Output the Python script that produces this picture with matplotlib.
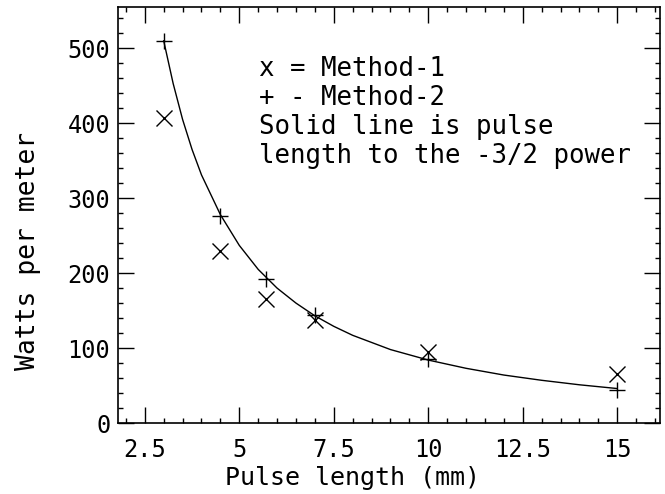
import matplotlib
matplotlib.use("Agg")
import matplotlib.pyplot as plt
from matplotlib.ticker import MultipleLocator

# data
pulse_len = [3.0, 4.5, 5.7, 7.0, 10.0, 15.0]
method1 = [407, 230, 166, 137, 95, 65]
method2 = [510, 276, 192, 144, 86, 44]

# solid line (pulse length ^ -3/2)
curve_x = [3.0, 3.25, 3.5, 3.75, 4.0, 4.5, 5.0, 5.5, 6.0, 6.5, 7.0, 7.5, 8.0,
           9.0, 10.0, 11.0, 12.0, 13.0, 14.0, 15.0]
curve_y = [510, 453, 405, 365, 331, 278, 237, 205, 180, 160, 143, 129, 117,
           98, 84, 73, 64, 57, 51, 46]

tick_pos = [2.5, 5, 7.5, 10, 12.5, 15]
tick_txt = ['2.5', '5', '7.5', '10', '12.5', '15']

note = ["x = Method-1", "+ - Method-2", "Solid line is pulse",
        "length to the -3/2 power"]

plt.rcParams['font.family'] = ['DejaVu Sans Mono', 'DejaVu Sans']

fig = plt.figure(figsize=(6.65, 4.94), dpi=100)
ax = fig.add_axes([0.1774, 0.1437, 0.815, 0.842])

ax.plot(curve_x, curve_y, color='k', lw=1.0)
ax.plot(pulse_len, method1, linestyle='none', marker='x', ms=11, mew=1.0, color='k')
ax.plot(pulse_len, method2, linestyle='none', marker='+', ms=11, mew=1.0, color='k')

ax.set_xlim(1.79, 16.13)
ax.set_ylim(0, 555)
ax.set_xticks(tick_pos)
ax.set_xticklabels(tick_txt)
ax.xaxis.set_minor_locator(MultipleLocator(0.5))
ax.yaxis.set_major_locator(MultipleLocator(100))
ax.yaxis.set_minor_locator(MultipleLocator(20))

ax.tick_params(which='both', direction='in', top=True, right=True, width=1.0,
               labelsize=17)
ax.tick_params(which='major', length=11.5)
ax.tick_params(which='minor', length=3.6)
ax.tick_params(axis='x', pad=11)
ax.tick_params(axis='y', pad=5.5)
for s in ax.spines.values():
    s.set_linewidth(1.2)

ax.set_xlabel('Pulse length (mm)', fontsize=18)
ax.xaxis.set_label_coords(0.432, -0.103)
ax.set_ylabel('Watts per meter', fontsize=19)
ax.yaxis.set_label_coords(-0.142, 0.413)

baselines = [0.834, 0.764, 0.695, 0.625]
for line, yb in zip(note, baselines):
    ax.text(0.26, yb, line, transform=ax.transAxes,
            fontsize=18.5, va='baseline', ha='left')

fig.savefig('out.png', dpi=100)
